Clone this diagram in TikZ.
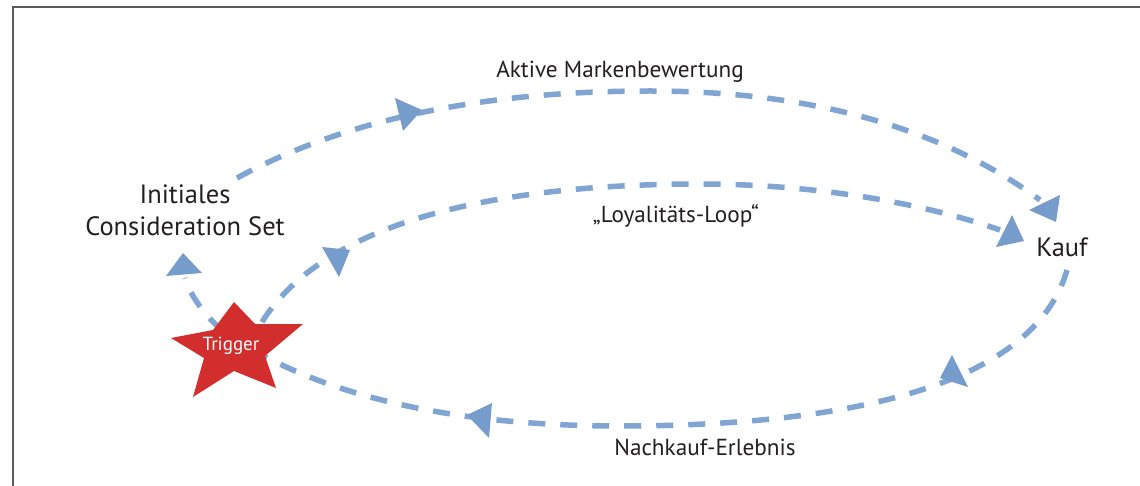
\documentclass[tikz,border=0pt]{standalone}
\usepackage{fontspec}
\setmainfont{PT Sans}
\definecolor{loopblue}{RGB}{128,165,210}
\definecolor{arrowblue}{RGB}{118,156,203}
\definecolor{framegray}{RGB}{90,90,90}
\definecolor{starred}{RGB}{211,46,46}
\definecolor{textdark}{RGB}{35,31,32}
\begin{document}
\begin{tikzpicture}[x=1pt,y=-1pt,
  loopline/.style={draw=loopblue, line width=5.5pt, dash pattern=on 17pt off 15pt},
  headtri/.style={fill=arrowblue},
  lbl/.style={font=\fontsize{23.2}{27}\selectfont, text=textdark, inner sep=0pt},
  biglbl/.style={font=\fontsize{26.5}{32}\selectfont, text=textdark, inner sep=0pt, align=center},
  trig/.style={font=\fontsize{19}{22}\selectfont, text=white, inner sep=0pt}]
\useasboundingbox (0,0) rectangle (1140,486);
\draw[framegray, line width=2pt] (13,486) -- (13,7) -- (1140,7);

% named end points of connectors
\coordinate (a1) at (237,178);
\coordinate (a2) at (650,91);
\coordinate (a3) at (1040,200);
\coordinate (b1) at (262,322);
\coordinate (b2) at (700,184);
\coordinate (b3) at (1000,230);
\coordinate (c1) at (1067,270);
\coordinate (c2) at (620,426);
\coordinate (c3) at (262,355);
\coordinate (d1) at (222,330);
\coordinate (d2) at (185,278);

% connectors
\draw[loopline] (a1) .. controls (360,111) and (510,91) .. (a2)
                     .. controls (800,91) and (935,123) .. (a3);
\draw[loopline] (b1) .. controls (326,220) and (500,184) .. (b2)
                     .. controls (800,184) and (911,199) .. (b3);
\draw[loopline] (c1) .. controls (1031,395) and (820,426) .. (c2)
                     .. controls (470,426) and (350,402) .. (c3);
\draw[loopline] (d1) .. controls (205,316) and (190,295) .. (d2);

% arrow heads
\fill[headtri] (395,98) -- (403,131) -- (422,110) -- cycle;
\fill[headtri] (1060,195) -- (1029,210) -- (1056,222) -- cycle;
\fill[headtri] (322,247) -- (350,250) -- (339,277) -- cycle;
\fill[headtri] (1012,215) -- (996,247) -- (1024,241) -- cycle;
\fill[headtri] (952,355) -- (940,378) -- (968,387) -- cycle;
\fill[headtri] (492,403) -- (467,415) -- (489,438) -- cycle;
\fill[headtri] (183,253) -- (166,276) -- (202,273) -- cycle;

% trigger star
\fill[starred] (234,302) -- (255,324) -- (303,324) -- (265,356) -- (276,388)
  -- (234,371) -- (193,397) -- (204,358) -- (171,338) -- (213,330) -- cycle;
\node[trig, anchor=base] (trigger) at (231,350) {Trigger};

% labels
\node[biglbl, anchor=north] (ics) at (185,185) {Initiales\\Consideration Set};
\node[biglbl, anchor=base] (kauf) at (1062,257) {Kauf};
\node[lbl, anchor=base] (eval) at (620,78) {Aktive Markenbewertung};
\node[lbl, anchor=base] (loyal) at (676,223) {„Loyalitäts-Loop“};
\node[lbl, anchor=base] (post) at (705,455) {Nachkauf-Erlebnis};
\end{tikzpicture}
\end{document}
